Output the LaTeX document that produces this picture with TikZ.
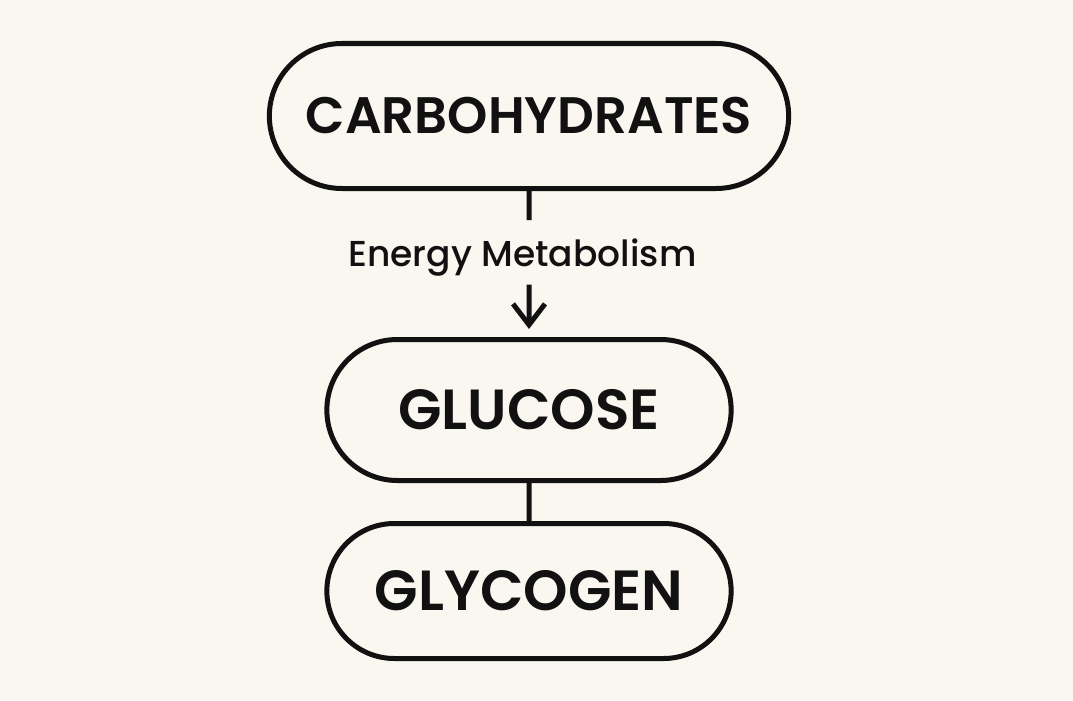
\documentclass[tikz,border=0pt]{standalone}
\usepackage{fontspec}
\setmainfont{Poppins}
\newfontfamily\headfont{Poppins SemiBold}
\newfontfamily\labelfont{Poppins Medium}
\usetikzlibrary{arrows.meta,positioning,shapes.misc}
\definecolor{paper}{HTML}{FAF7F0}
\definecolor{ink}{HTML}{111111}
\tikzset{%
	pill/.style     = {draw=ink, rounded rectangle, line width=0.1cm, text=ink}, % Stage
	caption/.style  = {text=ink, inner sep=0pt, text height=0.92cm, text depth=0.36cm}, % Label
	link/.style     = {draw=ink, line width=0.1cm},
}

\begin{document}
\begin{tikzpicture}[node distance = 1cm, >={Straight Barb[length=0.42cm,width=0.64cm]}]
	\fill[paper] (-10.58,2.32) rectangle (10.88,-11.68);
	\useasboundingbox (-10.58,2.32) rectangle (10.88,-11.68);
	\node[pill, minimum width=10.62cm, minimum height=2.9cm, font=\fontsize{29.2}{32}\headfont] (carb) at (0,0) {CARBOHYDRATES};
	\node[pill, minimum width=8.32cm, minimum height=2.82cm, font=\fontsize{32.2}{36}\headfont, below=2.92cm of carb] (glucose) {GLUCOSE};
	\node[pill, minimum width=8.32cm, minimum height=2.7cm, font=\fontsize{32.2}{36}\headfont, below=0.76cm of glucose] (glycogen) {GLYCOGEN};
	\node[caption, below=0.58cm of carb, xshift=-0.13cm, font=\fontsize{20.5}{24}\labelfont] (em) {Energy Metabolism};
	\draw[link] (carb) -- (carb |- em.north);
	\draw[link, ->, shorten >=0.16cm] (carb |- em.south) -- (glucose);
	\draw[link] (glucose) -- (glycogen);
\end{tikzpicture}
\end{document}
